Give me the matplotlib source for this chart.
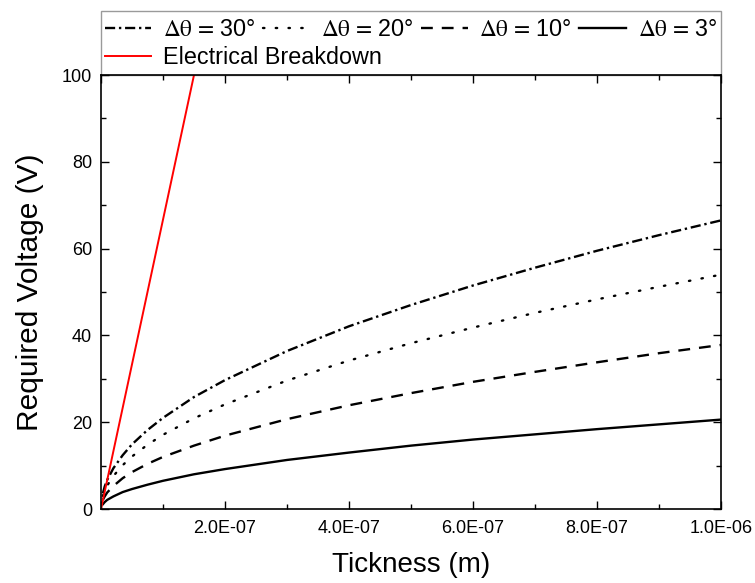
import matplotlib
matplotlib.use("Agg")
import matplotlib.pyplot as plt
from matplotlib.ticker import MultipleLocator, FixedLocator, FixedFormatter
from matplotlib.patches import Rectangle

plt.rcParams['font.family'] = ['Liberation Sans', 'DejaVu Sans']
plt.rcParams['mathtext.fontset'] = 'stix'

# thickness in metres
thickness = [0.003e-6, 0.006e-6, 0.01e-6, 0.02e-6, 0.035e-6, 0.05e-6, 0.075e-6, 0.1e-6,
             0.15e-6, 0.2e-6, 0.3e-6, 0.4e-6, 0.5e-6, 0.6e-6, 0.7e-6, 0.8e-6, 0.9e-6, 1.0e-6]
v_30 = [3.6, 5.2, 6.7, 9.4, 12.4, 14.9, 18.2, 21.0, 25.8, 29.7, 36.4, 42.1, 47.0, 51.5, 55.6, 59.5, 63.1, 66.5]
v_20 = [3.0, 4.2, 5.4, 7.6, 10.1, 12.1, 14.8, 17.1, 20.9, 24.1, 29.6, 34.2, 38.2, 41.8, 45.2, 48.3, 51.2, 54.0]
v_10 = [2.1, 2.9, 3.8, 5.3, 7.1, 8.5, 10.4, 12.0, 14.6, 16.9, 20.7, 23.9, 26.7, 29.3, 31.6, 33.8, 35.9, 37.8]
v_3 = [1.1, 1.6, 2.1, 2.9, 3.9, 4.6, 5.6, 6.5, 8.0, 9.2, 11.3, 13.0, 14.6, 16.0, 17.2, 18.4, 19.5, 20.6]

breakdown_t = [0.0, 1.5e-7]
breakdown_v = [0.0, 100.0]

xticks = [0, 2e-7, 4e-7, 6e-7, 8e-7, 1e-6]
xtick_labels = ['', '2.0E-07', '4.0E-07', '6.0E-07', '8.0E-07', '1.0E-06']
yticks = [0, 20, 40, 60, 80, 100]

fig = plt.figure(figsize=(7.55, 5.83), dpi=100)
ax_h = 434
ax = fig.add_axes([101/755, 1-509/583, 620/755, ax_h/583])

lw = 1.7
l30, = ax.plot(thickness, v_30, color='black', lw=lw, dashes=(4.3, 1.6, 1, 1.6),
               label=r'$\mathrm{\Delta\theta\,=\,}$30°')
l20, = ax.plot(thickness, v_20, color='black', lw=lw, dashes=(0.6, 4.8),
               dash_capstyle='round', label=r'$\mathrm{\Delta\theta\,=\,}$20°')
l10, = ax.plot(thickness, v_10, color='black', lw=lw, dashes=(5.0, 3.8),
               label=r'$\mathrm{\Delta\theta\,=\,}$10°')
l3, = ax.plot(thickness, v_3, color='black', lw=lw, label=r'$\mathrm{\Delta\theta\,=\,}$3°')
lb, = ax.plot(breakdown_t, breakdown_v, color='#ff0000', lw=1.4, label='Electrical Breakdown')

ax.set_xlim(0, 1e-6)
ax.set_ylim(0, 100)
ax.xaxis.set_major_locator(FixedLocator(xticks))
ax.xaxis.set_major_formatter(FixedFormatter(xtick_labels))
ax.xaxis.set_minor_locator(MultipleLocator(1e-7))
ax.yaxis.set_major_locator(FixedLocator(yticks))
ax.yaxis.set_minor_locator(MultipleLocator(10))
ax.tick_params(which='both', direction='in', top=True, right=True, labelsize=13, width=1.0)
ax.tick_params(axis='x', pad=8)
ax.tick_params(axis='y', pad=6.5)
ax.tick_params(which='major', length=6)
ax.tick_params(which='minor', length=3.5)
for s in ax.spines.values():
    s.set_linewidth(1.2)

ax.set_xlabel('Tickness (m)', fontsize=20, labelpad=11)
ax.set_ylabel('Required Voltage (V)', fontsize=21.5, labelpad=13)

leg_fs = 16.8
common = dict(fontsize=leg_fs, handlelength=2.0, handletextpad=0.5, borderpad=0.15,
              borderaxespad=0, frameon=False)
row1_y = (509 - 30) / ax_h
row2_y = (509 - 58) / ax_h
leg1 = ax.legend([l30, l20, l10, l3],
                 [l30.get_label(), l20.get_label(), l10.get_label(), l3.get_label()],
                 loc='center left', bbox_to_anchor=(0, row1_y, 1, 0), mode='expand',
                 ncol=4, columnspacing=0.5, **common)
ax.add_artist(leg1)
leg2 = ax.legend([lb], [lb.get_label()], loc='center left', bbox_to_anchor=(0, row2_y),
                 **common)
frame_top = (509 - 11) / ax_h
ax.add_patch(Rectangle((0, 1), 1, frame_top - 1, transform=ax.transAxes, fill=False,
                       edgecolor='#9a9a9a', lw=1.0, clip_on=False, zorder=0))

fig.savefig('out.png', dpi=100)
